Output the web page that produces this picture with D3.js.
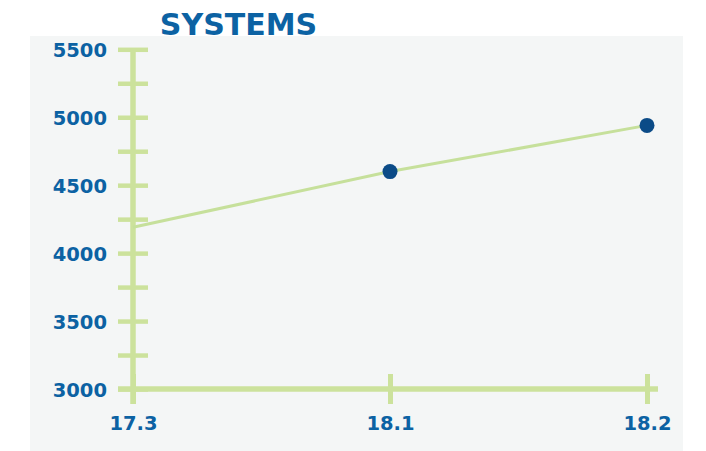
<!DOCTYPE html>
<html>
<head>
<meta charset="utf-8">
<script src="https://cdn.jsdelivr.net/npm/d3@7"></script>
<style>
  body { margin: 0; background: #ffffff; }
  svg text { font-family: "DejaVu Sans", sans-serif; font-weight: bold; fill: #0c62a3; }
</style>
</head>
<body>
<div id="chart"></div>
<script>
// Chart data
const categories = ["17.3", "18.1", "18.2"];
const values = [4190, 4600, 4940];
const yTicks = [3000, 3250, 3500, 3750, 4000, 4250, 4500, 4750, 5000, 5250, 5500];
const yLabels = [3000, 3500, 4000, 4500, 5000, 5500];
const title = "SYSTEMS";

function createChart() {
    const width = 706, height = 451;
    const axisColor = "#cce29c";

    const svg = d3.select("#chart")
        .append("svg")
        .attr("width", width)
        .attr("height", height);

    // Panel background
    svg.append("rect")
        .attr("x", 30)
        .attr("y", 36)
        .attr("width", 653)
        .attr("height", 415)
        .attr("fill", "#f4f6f6");

    // Scales
    const xScale = d3.scalePoint()
        .domain(categories)
        .range([133, 647]);

    const yScale = d3.scaleLinear()
        .domain([3000, 5500])
        .range([389, 49.3]);

    // Y axis
    const yAxis = svg.append("g")
        .attr("transform", `translate(${xScale(categories[0])}, 0)`)
        .call(d3.axisLeft(yScale)
            .tickValues(yTicks)
            .tickFormat(d => yLabels.includes(d) ? d : "")
            .tickPadding(20));
    yAxis.select(".domain").remove();
    yAxis.selectAll(".tick line")
        .attr("x1", -15)
        .attr("x2", 15)
        .attr("stroke", axisColor)
        .attr("stroke-width", 4.5);
    yAxis.selectAll(".tick text")
        .style("font-size", "19.5px")
        .attr("dy", "0.36em");
    yAxis.append("line")
        .attr("x1", 0).attr("x2", 0)
        .attr("y1", yScale(5500)).attr("y2", yScale(3000) + 15)
        .attr("stroke", axisColor)
        .attr("stroke-width", 5.5);

    // X axis
    const xAxis = svg.append("g")
        .attr("transform", `translate(0, ${yScale(3000)})`)
        .call(d3.axisBottom(xScale).tickPadding(21));
    xAxis.select(".domain").remove();
    xAxis.selectAll(".tick line")
        .attr("y1", -15)
        .attr("y2", 15)
        .attr("stroke", axisColor)
        .attr("stroke-width", 5);
    xAxis.selectAll(".tick text")
        .style("font-size", "19.5px");
    xAxis.append("line")
        .attr("x1", xScale(categories[0]) - 15)
        .attr("x2", xScale(categories[categories.length - 1]) + 11)
        .attr("y1", 0).attr("y2", 0)
        .attr("stroke", axisColor)
        .attr("stroke-width", 5.5);

    // Line
    const line = d3.line()
        .x((d, i) => xScale(categories[i]))
        .y(d => yScale(d));

    svg.append("path")
        .datum(values)
        .attr("fill", "none")
        .attr("stroke", "#c6e09b")
        .attr("stroke-width", 3)
        .attr("d", line);

    // Markers (first point has none)
    svg.selectAll(".dot")
        .data(values.slice(1))
        .enter()
        .append("circle")
        .attr("class", "dot")
        .attr("cx", (d, i) => xScale(categories[i + 1]))
        .attr("cy", d => yScale(d))
        .attr("r", 7.5)
        .attr("fill", "#0b4b87");

    // Title
    svg.append("text")
        .attr("x", 238.5)
        .attr("y", 35)
        .attr("text-anchor", "middle")
        .style("font-size", "30px")
        .style("fill", "#0c62a3")
        .text(title);
}

createChart();
</script>
</body>
</html>
